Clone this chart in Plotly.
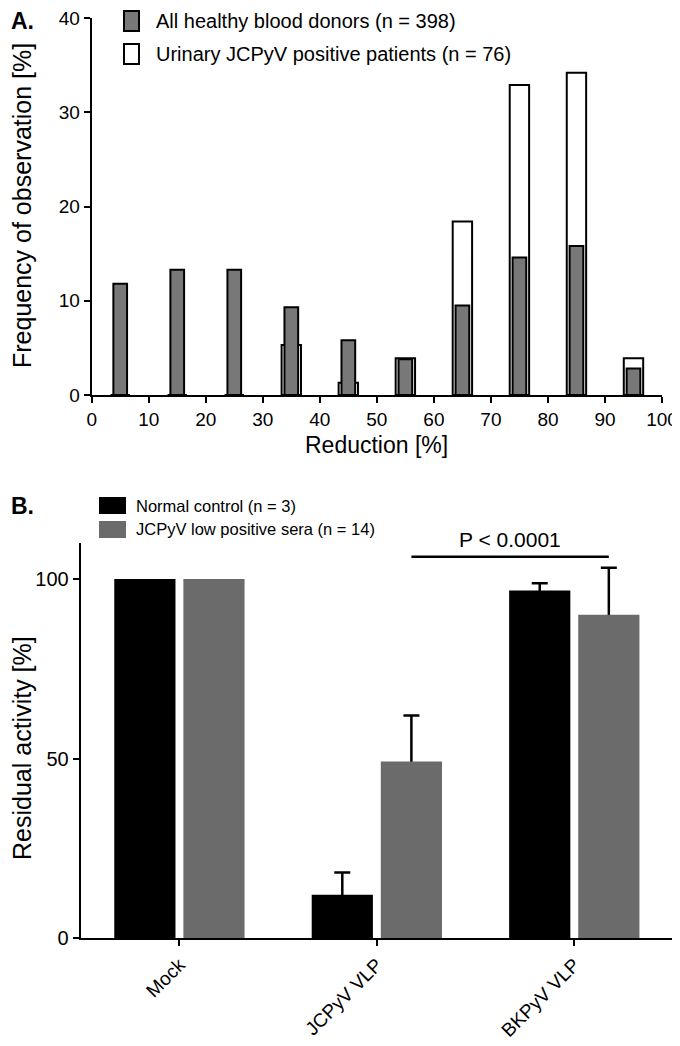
import plotly.graph_objects as go

# ---------------- data ----------------
# Panel A: histogram of reduction (%), bin centres
bins = [5, 15, 25, 35, 45, 55, 65, 75, 85, 95]
donors_pct = [11.8, 13.3, 13.3, 9.3, 5.8, 3.8, 9.5, 14.6, 15.8, 2.8]
patients_pct = [0, 0, 0, 5.3, 1.3, 3.9, 18.4, 32.9, 34.2, 3.9]
x_ticks_a = list(range(0, 101, 10))
y_ticks_a = [0, 10, 20, 30, 40]
donors_name = "All healthy blood donors (n = 398)"
patients_name = "Urinary JCPyV positive patients (n = 76)"

# Panel B: residual activity
categories = ["Mock", "JCPyV VLP", "BKPyV VLP"]
normal_mean = [100, 12.1, 96.8]
normal_err = [0, 6.2, 2.0]
lowpos_mean = [100, 49.2, 90.0]
lowpos_err = [0, 12.8, 13.1]
y_ticks_b = [0, 50, 100]
normal_name = "Normal control (n = 3)"
lowpos_name = "JCPyV low positive sera (n = 14)"
p_text = "P < 0.0001"

# ---------------- style ----------------
PAGE_OFF = 8            # default page margin around the figure
W, H = 680 - PAGE_OFF, 1046 - PAGE_OFF
FONT = "Liberation Sans, Arial, Helvetica, sans-serif"
GRAY_A = "#787878"
GRAY_B = "#6b6b6b"


def px(x):
    """screen x (px) -> paper fraction"""
    return (x - PAGE_OFF) / W


def py(y):
    """screen y (px, from top) -> paper fraction"""
    return 1 - (y - PAGE_OFF) / H


fig = go.Figure()

# Panel A bars (white behind, grey in front)
fig.add_trace(go.Bar(x=bins, y=patients_pct, width=3.4, name=patients_name,
                     marker=dict(color="white", line=dict(color="black", width=2)),
                     xaxis="x", yaxis="y", showlegend=False))
fig.add_trace(go.Bar(x=bins, y=donors_pct, width=2.4, name=donors_name,
                     marker=dict(color=GRAY_A, line=dict(color="black", width=2)),
                     xaxis="x", yaxis="y", showlegend=False))

# Panel B: error-bar carriers (drawn first so bars hide the lower half)
BW = 0.31
OFF_N, OFF_L = -0.33, 0.02
for means, errs, off in [(normal_mean, normal_err, OFF_N), (lowpos_mean, lowpos_err, OFF_L)]:
    idx = [i for i, e in enumerate(errs) if e > 0]
    fig.add_trace(go.Bar(x=[categories[i] for i in idx], y=[means[i] for i in idx],
                         width=BW, offset=off,
                         marker=dict(color="rgba(0,0,0,0)", line=dict(width=0)),
                         error_y=dict(type="data", array=[errs[i] for i in idx],
                                      color="black", thickness=2.5, width=8),
                         xaxis="x2", yaxis="y2", showlegend=False, hoverinfo="skip"))

fig.add_trace(go.Bar(x=categories, y=normal_mean, width=BW, offset=OFF_N, name=normal_name,
                     marker=dict(color="black", line=dict(width=0)),
                     xaxis="x2", yaxis="y2", showlegend=False))
fig.add_trace(go.Bar(x=categories, y=lowpos_mean, width=BW, offset=OFF_L, name=lowpos_name,
                     marker=dict(color=GRAY_B, line=dict(width=0)),
                     xaxis="x2", yaxis="y2", showlegend=False))

axis_common = dict(showline=True, linecolor="black", linewidth=2, ticks="outside",
                   ticklen=6, tickwidth=2, tickcolor="black", showgrid=False,
                   zeroline=False, automargin=False, ticklabeloverflow="allow")

fig.update_layout(
    width=W, height=H,
    margin=dict(l=0, r=0, t=0, b=0),
    paper_bgcolor="white", plot_bgcolor="white",
    barmode="overlay",
    font=dict(family=FONT, color="black"),
    xaxis=dict(domain=[px(91.7), px(662)], anchor="y", range=[0, 100],
               tickvals=x_ticks_a, tickfont=dict(size=19), **axis_common),
    yaxis=dict(domain=[py(395), py(18)], anchor="x", range=[0, 40],
               tickvals=y_ticks_a, tickfont=dict(size=19), **axis_common),
    xaxis2=dict(domain=[px(80.7), px(673)], anchor="y2", type="category",
                categoryorder="array", categoryarray=categories,
                range=[-0.5, 2.5], tickangle=-45, tickfont=dict(size=19), **axis_common),
    yaxis2=dict(domain=[py(938.3), py(543)], anchor="x2", range=[0, 110],
                tickvals=y_ticks_b, tickfont=dict(size=20), **axis_common),
)

shapes = []
ann = []

# Panel labels
ann.append(dict(text="<b>A.</b>", x=px(9), y=py(21), xref="paper", yref="paper",
                xanchor="left", yanchor="middle", showarrow=False, font=dict(size=23)))
ann.append(dict(text="<b>B.</b>", x=px(9), y=py(506), xref="paper", yref="paper",
                xanchor="left", yanchor="middle", showarrow=False, font=dict(size=23)))

# Axis titles
ann.append(dict(text="Reduction [%]", x=(px(91.7) + px(662)) / 2, y=py(445),
                xref="paper", yref="paper", xanchor="center", yanchor="middle",
                showarrow=False, font=dict(size=23)))
ann.append(dict(text="Frequency of observation [%]", x=px(22), y=py(206),
                xref="paper", yref="paper", xanchor="center", yanchor="middle",
                textangle=-90, showarrow=False, font=dict(size=25)))
ann.append(dict(text="Residual activity [%]", x=px(22), y=py(748),
                xref="paper", yref="paper", xanchor="center", yanchor="middle",
                textangle=-90, showarrow=False, font=dict(size=25)))

# Legend A
shapes.append(dict(type="rect", xref="paper", yref="paper", x0=px(124), x1=px(139),
                   y0=py(31), y1=py(11), fillcolor=GRAY_A, line=dict(color="black", width=2)))
shapes.append(dict(type="rect", xref="paper", yref="paper", x0=px(124), x1=px(139),
                   y0=py(64), y1=py(44), fillcolor="white", line=dict(color="black", width=2)))
ann.append(dict(text=donors_name, x=px(154), y=py(21), xref="paper", yref="paper",
                xanchor="left", yanchor="middle", showarrow=False, font=dict(size=20)))
ann.append(dict(text=patients_name, x=px(154), y=py(54), xref="paper", yref="paper",
                xanchor="left", yanchor="middle", showarrow=False, font=dict(size=20)))

# Legend B
shapes.append(dict(type="rect", xref="paper", yref="paper", x0=px(99), x1=px(126),
                   y0=py(514), y1=py(497), fillcolor="black", line=dict(width=0)))
shapes.append(dict(type="rect", xref="paper", yref="paper", x0=px(99), x1=px(126),
                   y0=py(538), y1=py(521), fillcolor=GRAY_B, line=dict(width=0)))
ann.append(dict(text=normal_name, x=px(134), y=py(506), xref="paper", yref="paper",
                xanchor="left", yanchor="middle", showarrow=False, font=dict(size=16.5)))
ann.append(dict(text=lowpos_name, x=px(134), y=py(529), xref="paper", yref="paper",
                xanchor="left", yanchor="middle", showarrow=False, font=dict(size=16.5)))

# Significance bar between the two grey bars (JCPyV vs BKPyV)
gray_centre = OFF_L + BW / 2
shapes.append(dict(type="line", xref="x2", yref="y2",
                   x0=1 + gray_centre, x1=2 + gray_centre, y0=106.2, y1=106.2,
                   line=dict(color="black", width=2.5)))
ann.append(dict(text=p_text, x=1.5 + gray_centre, y=py(539), xref="x2", yref="paper",
                xanchor="center", yanchor="middle", showarrow=False, font=dict(size=21)))

fig.update_layout(shapes=shapes, annotations=ann)

fig.write_html("out.html")
